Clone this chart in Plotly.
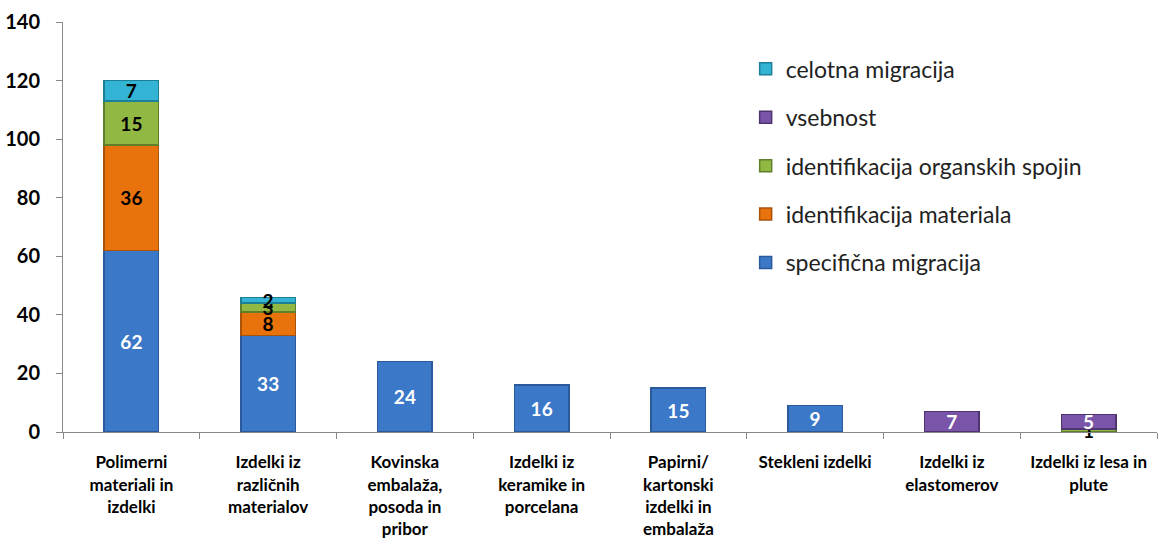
import plotly.graph_objects as go

categories = [
    "Polimerni<br>materiali in<br>izdelki",
    "Izdelki iz<br>različnih<br>materialov",
    "Kovinska<br>embalaža,<br>posoda in<br>pribor",
    "Izdelki iz<br>keramike in<br>porcelana",
    "Papirni/<br>kartonski<br>izdelki in<br>embalaža",
    "Stekleni izdelki",
    "Izdelki iz<br>elastomerov",
    "Izdelki iz lesa in<br>plute",
]
specificna = [62, 33, 24, 16, 15, 9, 0, 0]
ident_materiala = [36, 8, 0, 0, 0, 0, 0, 0]
ident_organskih = [15, 3, 0, 0, 0, 0, 0, 1]
vsebnost = [0, 0, 0, 0, 0, 0, 7, 5]
celotna = [7, 2, 0, 0, 0, 0, 0, 0]

series = [
    ("specifična migracija", specificna, "#3B78C8", "#2A5A9A", "white"),
    ("identifikacija materiala", ident_materiala, "#E8720C", "#A9520A", "black"),
    ("identifikacija organskih spojin", ident_organskih, "#92B844", "#5F7F2A", "black"),
    ("vsebnost", vsebnost, "#7A54A8", "#4F3470", "white"),
    ("celotna migracija", celotna, "#33B4D4", "#1D7F98", "black"),
]

fig = go.Figure()
n = len(series)
for i, (name, vals, col, edge, tcol) in enumerate(series):
    fig.add_trace(go.Bar(
        x=categories,
        y=[v if v else None for v in vals],
        name=name,
        text=[str(v) if v else "" for v in vals],
        textposition="inside",
        insidetextanchor="middle",
        textangle=0,
        textfont=dict(color=tcol, size=19, family="Lato", weight="bold"),
        marker=dict(color=col, line=dict(color=edge, width=1.5)),
        constraintext="none",
        cliponaxis=False,
        legendgroup=f"g{i}",
        legendrank=(n - i) * 100,
    ))

fig.update_layout(
    barmode="stack",
    bargap=0.6,
    width=1161, height=545,
    margin=dict(l=63, r=4, t=22, b=113, autoexpand=False),
    plot_bgcolor="white", paper_bgcolor="white",
    font=dict(family="Lato", size=16, color="black"),
    uniformtext=dict(minsize=19, mode="show"),
    legend=dict(
        x=0.624, y=0.938, xanchor="left", yanchor="top",
        traceorder="grouped",
        tracegroupgap=15.5,
        font=dict(size=23, family="Lato", color="#222"),
        itemwidth=30,
        bgcolor="rgba(0,0,0,0)",
    ),
    xaxis=dict(
        automargin=False,
        showline=True, linecolor="#888", linewidth=1,
        ticks="outside", tickson="boundaries", ticklen=6, tickcolor="#888",
        ticklabelstandoff=15,
        tickfont=dict(size=17, family="Lato", weight="bold"),
        showgrid=False,
    ),
    yaxis=dict(
        automargin=False,
        range=[0, 140], dtick=20,
        showline=True, linecolor="#888", linewidth=1,
        ticks="outside", ticklen=6, tickcolor="#888",
        ticklabelstandoff=12,
        tickfont=dict(size=20, family="Lato", weight="bold"),
        showgrid=False, zeroline=False,
    ),
)

fig.write_html("out.html", config={"displayModeBar": False},
               post_script="document.body.style.margin='0';")
